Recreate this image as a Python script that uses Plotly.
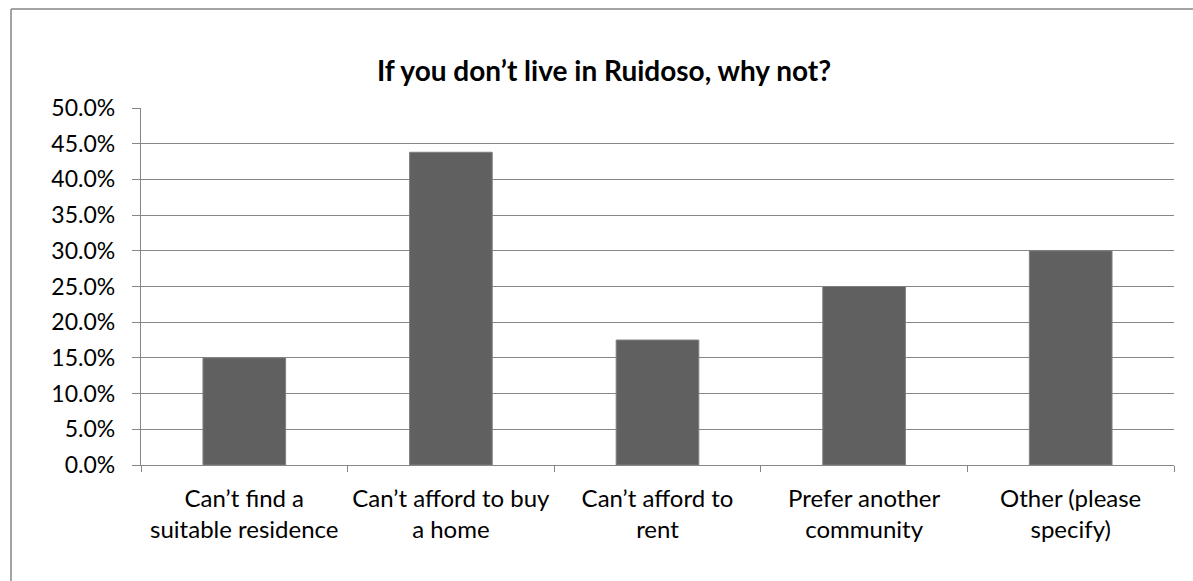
import plotly.graph_objects as go

categories = [
    "Can’t find a<br>suitable residence",
    "Can’t afford to buy<br>a home",
    "Can’t afford to<br>rent",
    "Prefer another<br>community",
    "Other (please<br>specify)",
]
values = [0.15, 0.438, 0.175, 0.25, 0.30]
title_text = "If you don’t live in Ruidoso, why not?"

W, H = 1193, 581
ML, MR, MT, MB = 141, 19, 108, 116
pw = W - ML - MR
ph = H - MT - MB

FONT = "Lato"
GRID = "#868686"

fig = go.Figure(
    go.Bar(
        x=categories,
        y=values,
        marker=dict(color="#606060", line=dict(color="#7f7f7f", width=1)),
        hoverinfo="skip",
    )
)

def px2paper_x(px):
    return (px - ML) / pw

def px2paper_y(py):
    return (H - MB - py) / ph

fig.update_layout(
    width=W,
    height=H,
    margin=dict(l=ML, r=MR, t=MT, b=MB, autoexpand=False),
    paper_bgcolor="white",
    plot_bgcolor="white",
    bargap=0.6,
    showlegend=False,
    font=dict(family=FONT, color="#000000", size=23),
    title=dict(
        text="<b>" + title_text + "</b>",
        x=604 / W,
        xref="container",
        xanchor="center",
        y=1 - 71 / H,
        yref="container",
        yanchor="middle",
        font=dict(family=FONT, size=28, color="#000000"),
    ),
    shapes=[
        dict(type="line", xref="paper", yref="paper",
             x0=px2paper_x(11), x1=px2paper_x(11),
             y0=px2paper_y(9), y1=px2paper_y(600),
             line=dict(color=GRID, width=1.5)),
        dict(type="line", xref="paper", yref="paper",
             x0=px2paper_x(11), x1=px2paper_x(1210),
             y0=px2paper_y(9), y1=px2paper_y(9),
             line=dict(color=GRID, width=1.5)),
    ],
)

fig.update_yaxes(
    range=[0, 0.5],
    dtick=0.05,
    tickformat=".1%",
    automargin=False,
    showgrid=True,
    gridcolor=GRID,
    gridwidth=1.3,
    showline=True,
    linecolor=GRID,
    linewidth=1.3,
    ticks="outside",
    ticklen=8,
    tickcolor=GRID,
    tickwidth=1.3,
    ticklabelstandoff=12,
    zeroline=False,
    tickfont=dict(family=FONT, size=23, color="#000000"),
)

fig.update_xaxes(
    automargin=False,
    tickangle=0,
    showline=True,
    linecolor=GRID,
    linewidth=1.3,
    ticks="outside",
    tickson="boundaries",
    ticklen=6,
    tickcolor=GRID,
    tickwidth=1.3,
    ticklabelstandoff=12,
    showgrid=False,
    tickfont=dict(family=FONT, size=24, color="#000000"),
)

fig.write_html("out.html")
